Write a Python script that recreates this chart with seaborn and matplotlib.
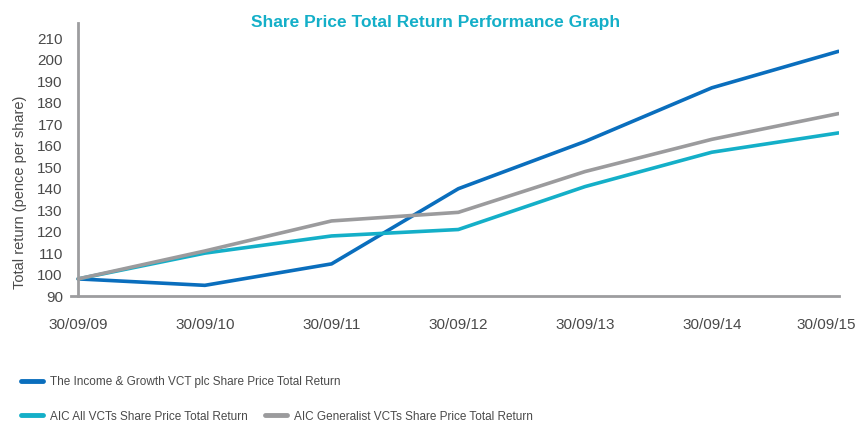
import pandas as pd
import matplotlib.pyplot as plt
import matplotlib.transforms as mtransforms
import seaborn as sns

# Data
dates = ['30/09/09', '30/09/10', '30/09/11', '30/09/12', '30/09/13', '30/09/14', '30/09/15']
income_growth = [98, 95, 105, 140, 162, 187, 204]
aic_all = [98, 110, 118, 121, 141, 157, 166]
aic_generalist = [98, 111, 125, 129, 148, 163, 175]
series_names = ['The Income & Growth VCT plc Share Price Total Return',
                'AIC All VCTs Share Price Total Return',
                'AIC Generalist VCTs Share Price Total Return']
y_ticks = list(range(90, 211, 10))

colors = ['#0a6ebd', '#14afc8', '#9b9b9d']
axis_grey = '#9d9d9f'
text_grey = '#4a4a4a'

sns.set_style('white')
plt.rcParams['font.family'] = ['Liberation Sans', 'DejaVu Sans']

# long form data for seaborn
rows = []
for name, vals in zip(series_names, [income_growth, aic_all, aic_generalist]):
    for i, v in enumerate(vals):
        rows.append({'pos': i, 'date': dates[i], 'value': v, 'series': name})
df = pd.DataFrame(rows)

fig = plt.figure(figsize=(8.6, 4.26), dpi=100)
ax = fig.add_axes([0.082, 0.305, 0.893, 0.64])

sns.lineplot(data=df, x='pos', y='value', hue='series', hue_order=series_names,
             palette=colors, linewidth=2.6, ax=ax, legend=True)

ax.set_xlim(-0.06, 6)
ax.set_ylim(90, 217)
ax.set_xticks(range(len(dates)))
ax.set_xticklabels(dates)
ax.set_yticks(y_ticks)
ax.set_xlabel('')
ax.set_ylabel('Total return (pence per share)', fontsize=10.5, color=text_grey)
ax.yaxis.set_label_coords(-0.057, 0.38)

ax.spines['top'].set_visible(False)
ax.spines['right'].set_visible(False)
ax.spines['left'].set_position(('data', 0))
for s in ['left', 'bottom']:
    ax.spines[s].set_color(axis_grey)
    ax.spines[s].set_linewidth(2)
ax.tick_params(axis='x', length=7, width=1, color=axis_grey, labelsize=11, labelcolor=text_grey, pad=9)
ax.tick_params(axis='y', length=0, labelsize=11, labelcolor=text_grey, pad=11)

# last date label sits a little left of its tick in the original
last = ax.get_xticklabels()[-1]
last.set_transform(last.get_transform() + mtransforms.ScaledTranslation(-12 / 100, 0, fig.dpi_scale_trans))

fig.text(0.507, 0.948, 'Share Price Total Return Performance Graph', fontsize=12.5, fontweight='bold',
         color='#14afc8', ha='center', va='center')

handles, labels = ax.get_legend_handles_labels()
ax.get_legend().remove()

leg1 = fig.legend(handles[:1], labels[:1], loc='center left', bbox_to_anchor=(0.012, 0.103),
                  frameon=False, fontsize=8.5, handlelength=1.9, handletextpad=0.6, labelcolor=text_grey)
leg2 = fig.legend(handles[1:], labels[1:], loc='center left', bbox_to_anchor=(0.012, 0.022),
                  frameon=False, fontsize=8.5, ncol=2, handlelength=1.9, handletextpad=0.6,
                  columnspacing=1.4, labelcolor=text_grey)
for lg in (leg1, leg2):
    for line in lg.get_lines():
        line.set_linewidth(3.5)

fig.savefig('out.png', dpi=100)
